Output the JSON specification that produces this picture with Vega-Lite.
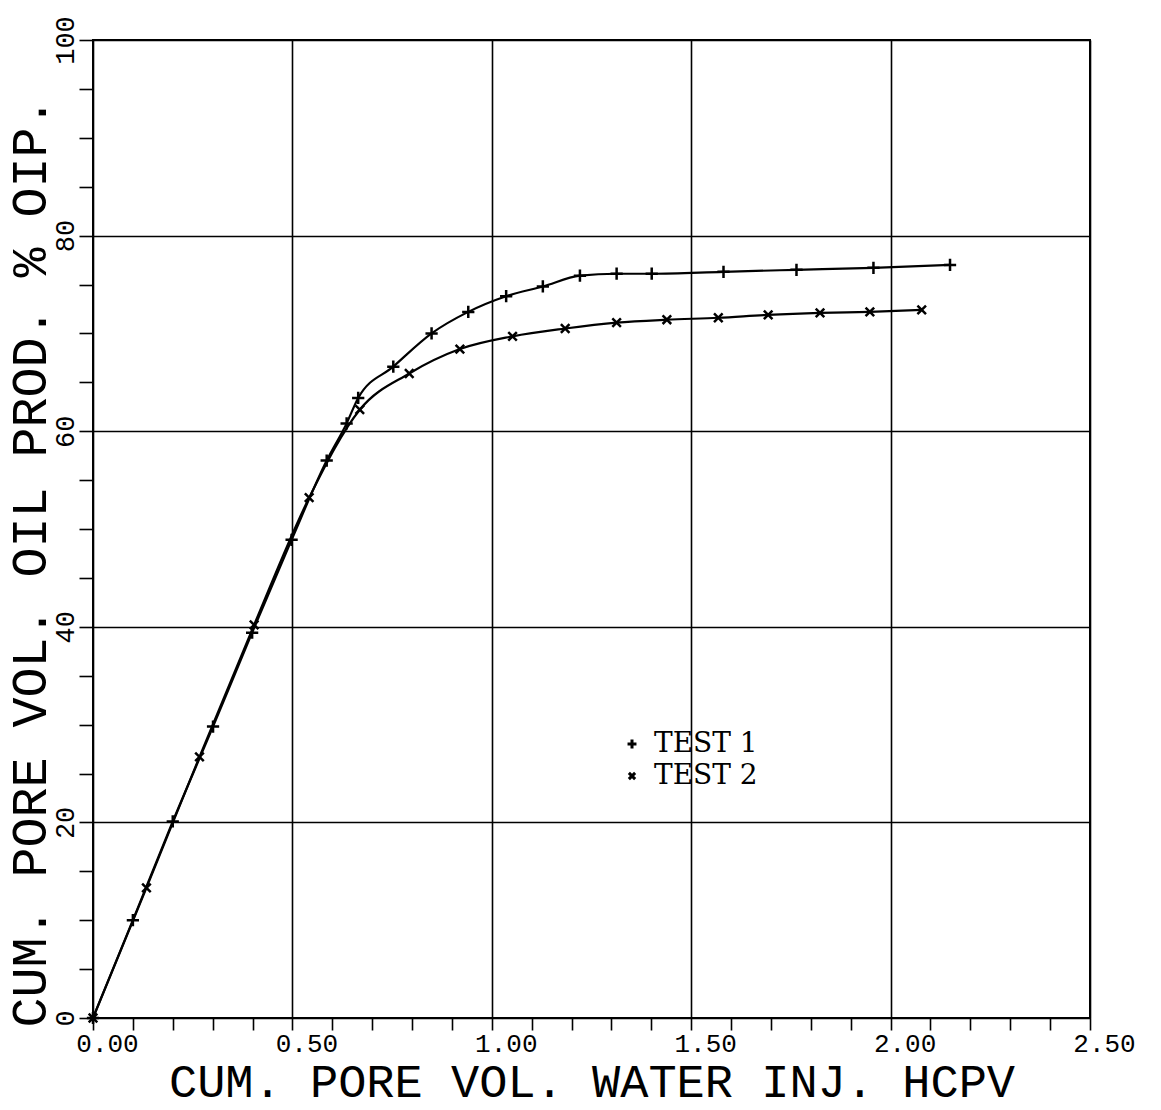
{
  "$schema": "https://vega.github.io/schema/vega-lite/v6.json",
  "width": 997,
  "height": 978,
  "autosize": {"type": "none"},
  "padding": {"left": 93, "top": 40, "right": 71, "bottom": 92},
  "background": "white",
  "config": {
    "view": {"stroke": "black", "strokeWidth": 2},
    "axis": {
      "domain": false,
      "gridColor": "black",
      "gridWidth": 1.6,
      "tickColor": "black",
      "tickWidth": 1.6,
      "labelColor": "black",
      "titleColor": "black",
      "labelFont": "Liberation Mono",
      "titleFont": "Liberation Mono",
      "titleFontWeight": "normal",
      "titleFontSize": 50
    }
  },
  "data": {
    "values": [
      {"pv": 0.0, "oil": 0.0, "test": "TEST 1"},
      {"pv": 0.1, "oil": 10.0, "test": "TEST 1"},
      {"pv": 0.2, "oil": 20.1, "test": "TEST 1"},
      {"pv": 0.301, "oil": 29.8, "test": "TEST 1"},
      {"pv": 0.399, "oil": 39.4, "test": "TEST 1"},
      {"pv": 0.498, "oil": 48.9, "test": "TEST 1"},
      {"pv": 0.586, "oil": 57.0, "test": "TEST 1"},
      {"pv": 0.636, "oil": 60.8, "test": "TEST 1"},
      {"pv": 0.665, "oil": 63.4, "test": "TEST 1"},
      {"pv": 0.753, "oil": 66.6, "test": "TEST 1"},
      {"pv": 0.849, "oil": 70.0, "test": "TEST 1"},
      {"pv": 0.941, "oil": 72.2, "test": "TEST 1"},
      {"pv": 1.036, "oil": 73.8, "test": "TEST 1"},
      {"pv": 1.128, "oil": 74.8, "test": "TEST 1"},
      {"pv": 1.221, "oil": 75.9, "test": "TEST 1"},
      {"pv": 1.313, "oil": 76.1, "test": "TEST 1"},
      {"pv": 1.401, "oil": 76.1, "test": "TEST 1"},
      {"pv": 1.581, "oil": 76.3, "test": "TEST 1"},
      {"pv": 1.764, "oil": 76.5, "test": "TEST 1"},
      {"pv": 1.957, "oil": 76.7, "test": "TEST 1"},
      {"pv": 2.149, "oil": 77.0, "test": "TEST 1"},
      {"pv": 0.0, "oil": 0.0, "test": "TEST 2"},
      {"pv": 0.134, "oil": 13.3, "test": "TEST 2"},
      {"pv": 0.267, "oil": 26.7, "test": "TEST 2"},
      {"pv": 0.404, "oil": 40.2, "test": "TEST 2"},
      {"pv": 0.542, "oil": 53.2, "test": "TEST 2"},
      {"pv": 0.669, "oil": 62.2, "test": "TEST 2"},
      {"pv": 0.793, "oil": 65.9, "test": "TEST 2"},
      {"pv": 0.92, "oil": 68.4, "test": "TEST 2"},
      {"pv": 1.052, "oil": 69.7, "test": "TEST 2"},
      {"pv": 1.184, "oil": 70.5, "test": "TEST 2"},
      {"pv": 1.313, "oil": 71.1, "test": "TEST 2"},
      {"pv": 1.439, "oil": 71.4, "test": "TEST 2"},
      {"pv": 1.568, "oil": 71.6, "test": "TEST 2"},
      {"pv": 1.693, "oil": 71.9, "test": "TEST 2"},
      {"pv": 1.823, "oil": 72.1, "test": "TEST 2"},
      {"pv": 1.948, "oil": 72.2, "test": "TEST 2"},
      {"pv": 2.078, "oil": 72.4, "test": "TEST 2"}
    ]
  },
  "encoding": {
    "x": {
      "field": "pv",
      "type": "quantitative",
      "scale": {"domain": [0, 2.5], "nice": false, "zero": false},
      "axis": {
        "title": "CUM. PORE VOL. WATER INJ. HCPV",
        "titleFontSize": 47,
        "values": [0, 0.1, 0.2, 0.3, 0.4, 0.5, 0.6, 0.7, 0.8, 0.9, 1.0, 1.1, 1.2, 1.3, 1.4, 1.5, 1.6, 1.7, 1.8, 1.9, 2.0, 2.1, 2.2, 2.3, 2.4, 2.5],
        "labelExpr": "abs(datum.value*2 - round(datum.value*2)) < 0.001 ? format(datum.value, '.2f') : ''",
        "gridOpacity": {"condition": {"test": "abs(datum.value*2 - round(datum.value*2)) < 0.001", "value": 1}, "value": 0},
        "tickSize": 12,
        "labelFontSize": 26,
        "labelPadding": 0,
        "labelOffset": 14,
        "labelFlush": false,
        "labelOverlap": false,
        "titlePadding": 3
      }
    },
    "y": {
      "field": "oil",
      "type": "quantitative",
      "scale": {"domain": [0, 100], "nice": false},
      "axis": {
        "title": "CUM. PORE VOL. OIL PROD. % OIP.",
        "titleY": 522,
        "values": [0, 5, 10, 15, 20, 25, 30, 35, 40, 45, 50, 55, 60, 65, 70, 75, 80, 85, 90, 95, 100],
        "labelExpr": "datum.value % 20 == 0 ? format(datum.value, 'd') : ''",
        "gridOpacity": {"condition": {"test": "datum.value % 20 == 0", "value": 1}, "value": 0},
        "tickSize": 14,
        "labelFontSize": 27,
        "labelAngle": 270,
        "labelPadding": 0,
        "labelFlush": false,
        "labelOverlap": false,
        "titlePadding": -4
      }
    }
  },
  "layer": [
    {
      "mark": {"type": "line", "color": "black", "strokeWidth": 2.2, "interpolate": "monotone"},
      "encoding": {"detail": {"field": "test"}}
    },
    {
      "mark": {"type": "point", "filled": false, "color": "black", "strokeWidth": 2.5, "size": 150, "opacity": 1},
      "encoding": {
        "shape": {
          "field": "test",
          "type": "nominal",
          "scale": {"domain": ["TEST 1", "TEST 2"], "range": ["M-1,0L1,0M0,-1L0,1", "M-0.7,-0.7L0.7,0.7M-0.7,0.7L0.7,-0.7"]},
          "legend": {
            "title": null,
            "orient": "none",
            "legendX": 525,
            "legendY": 690,
            "labelFont": "DejaVu Serif",
            "labelFontSize": 28,
            "labelColor": "black",
            "symbolStrokeColor": "black",
            "symbolStrokeWidth": 3,
            "symbolSize": 80,
            "symbolFillColor": "transparent",
            "rowPadding": 4,
            "labelOffset": 8
          }
        }
      }
    }
  ]
}
